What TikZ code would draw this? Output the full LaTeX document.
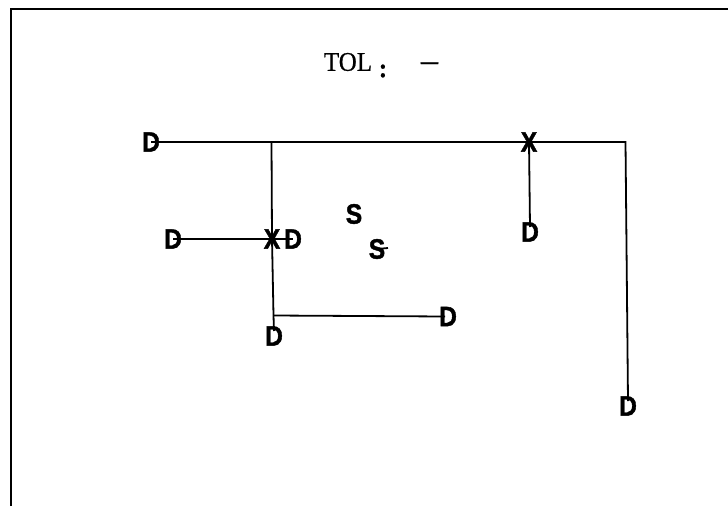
\documentclass[tikz,border=0pt]{standalone}
\usepackage{fontspec}
\setmainfont[FakeBold=0.6]{Liberation Serif}
\newfontfamily\lsans[BoldFeatures={FakeBold=1.5}]{Liberation Sans}
\tikzset{
  x=1pt,y=-1pt,
  glyph/.style={inner sep=0pt,outer sep=0pt,xscale=.88,font=\lsans\bfseries\fontsize{28}{28}\selectfont},
  titletext/.style={inner sep=0pt,outer sep=0pt,yscale=1.08,font=\fontsize{25}{25}\selectfont},
  wire/.style={line width=1.8pt,black},
  heavywire/.style={line width=2.4pt,black},
  frameline/.style={line width=2pt,black}
}
\begin{document}
\begin{tikzpicture}
\useasboundingbox (0,0) rectangle (728,506);
\coordinate (fa) at (10.5,506);
\coordinate (fb) at (10.5,8.5);
\coordinate (fc) at (728,8.5);
\draw[frameline] (fa) -- (fb) -- (fc);
\node[titletext] (tol) at (348,62) {TOL};
\node[titletext] (col) at (383,71) {\bfseries :};
\node[titletext] (dash) at (429.5,67) {\fontsize{34}{34}\selectfont –};
\coordinate (c1) at (271.5,142);
\coordinate (c2) at (625.5,142);
\coordinate (c3) at (273.5,315.5);
\coordinate (s2e) at (388,248);
\node[glyph] (d1) at (151,142) {D};
\node[glyph] (d2) at (173,239) {D};
\node[glyph] (d3) at (293,239) {D};
\node[glyph] (d4) at (274,336) {D};
\node[glyph] (d5) at (448,316.5) {D};
\node[glyph] (d6) at (530,232) {D};
\node[glyph] (d7) at (628,406) {D};
\node[glyph] (x1) at (272,239) {X};
\node[glyph] (x2) at (529,142) {X};
\node[glyph] (s1) at (354,214) {S};
\node[glyph] (s2) at (377,249) {S};
\draw[heavywire] (d1.center) -- (c1);
\draw[wire] (c1) -- (x2.center) -- (c2) -- ([yshift=5pt]d7.center);
\draw[wire] (c1) -- (x1.center) -- (c3) -- ([yshift=5pt]d4.center);
\draw[wire] (d2.center) -- (x1.center) -- (d3.center);
\draw[wire] (c3) -- ([xshift=-3pt]d5.center);
\draw[wire] (x2.center) -- ([yshift=5pt]d6.center);
\draw[wire] (s2.center) -- (s2e);
\end{tikzpicture}
\end{document}
